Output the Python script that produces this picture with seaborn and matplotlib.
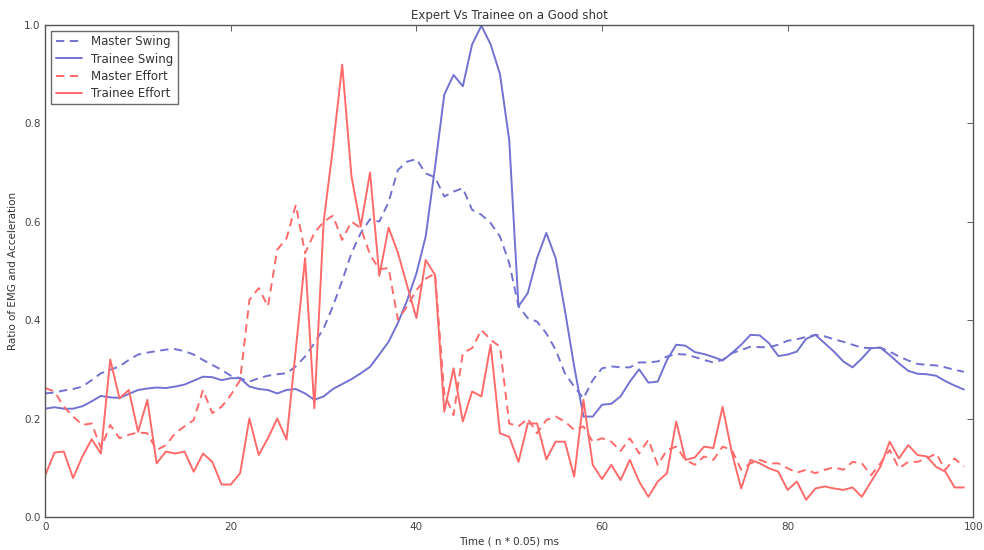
import numpy as np
import pandas as pd
import matplotlib
matplotlib.use("Agg")
import matplotlib.pyplot as plt
import seaborn as sns

# --- Data ---
time = list(range(100))

master_swing = [
    0.251, 0.253, 0.257, 0.260, 0.265, 0.278, 0.292, 0.299, 0.306, 0.319,
    0.330, 0.334, 0.337, 0.340, 0.341, 0.337, 0.330, 0.319, 0.309, 0.299,
    0.287, 0.282, 0.275, 0.282, 0.287, 0.290, 0.292, 0.306, 0.326, 0.353,
    0.383, 0.428, 0.480, 0.536, 0.577, 0.605, 0.600, 0.640, 0.705, 0.722,
    0.727, 0.698, 0.690, 0.651, 0.661, 0.668, 0.624, 0.614, 0.597, 0.570,
    0.516, 0.428, 0.404, 0.397, 0.373, 0.340, 0.292, 0.265, 0.241, 0.278,
    0.302, 0.306, 0.304, 0.304, 0.314, 0.314, 0.316, 0.326, 0.331, 0.330,
    0.325, 0.319, 0.314, 0.319, 0.333, 0.339, 0.346, 0.345, 0.345, 0.350,
    0.358, 0.361, 0.366, 0.370, 0.367, 0.361, 0.356, 0.350, 0.344, 0.343,
    0.344, 0.336, 0.326, 0.318, 0.311, 0.309, 0.308, 0.304, 0.299, 0.295,
]

trainee_swing = [
    0.220, 0.223, 0.220, 0.220, 0.225, 0.235, 0.246, 0.243, 0.242, 0.250,
    0.258, 0.261, 0.263, 0.262, 0.265, 0.269, 0.277, 0.285, 0.284, 0.278,
    0.282, 0.282, 0.265, 0.260, 0.258, 0.251, 0.258, 0.260, 0.251, 0.238,
    0.245, 0.260, 0.270, 0.280, 0.292, 0.305, 0.330, 0.356, 0.394, 0.440,
    0.495, 0.570, 0.710, 0.858, 0.898, 0.875, 0.960, 0.998, 0.960, 0.900,
    0.766, 0.428, 0.455, 0.526, 0.577, 0.526, 0.420, 0.306, 0.204, 0.204,
    0.228, 0.230, 0.245, 0.275, 0.300, 0.273, 0.275, 0.319, 0.350, 0.348,
    0.335, 0.331, 0.325, 0.318, 0.333, 0.350, 0.370, 0.369, 0.353, 0.327,
    0.330, 0.336, 0.362, 0.370, 0.353, 0.336, 0.316, 0.304, 0.322, 0.343,
    0.344, 0.329, 0.312, 0.297, 0.291, 0.290, 0.287, 0.276, 0.267, 0.259,
]

master_effort = [
    0.262, 0.255, 0.224, 0.204, 0.187, 0.190, 0.140, 0.187, 0.160, 0.167,
    0.172, 0.170, 0.136, 0.146, 0.170, 0.184, 0.197, 0.258, 0.211, 0.224,
    0.248, 0.278, 0.441, 0.465, 0.428, 0.543, 0.566, 0.634, 0.536, 0.577,
    0.600, 0.612, 0.563, 0.600, 0.587, 0.533, 0.503, 0.506, 0.401, 0.428,
    0.461, 0.484, 0.495, 0.251, 0.207, 0.333, 0.343, 0.380, 0.360, 0.346,
    0.190, 0.184, 0.200, 0.170, 0.197, 0.204, 0.194, 0.177, 0.184, 0.153,
    0.160, 0.153, 0.134, 0.160, 0.129, 0.157, 0.106, 0.136, 0.143, 0.116,
    0.106, 0.123, 0.116, 0.143, 0.136, 0.096, 0.109, 0.116, 0.109, 0.109,
    0.099, 0.090, 0.096, 0.089, 0.096, 0.101, 0.096, 0.112, 0.109, 0.085,
    0.109, 0.136, 0.099, 0.112, 0.112, 0.119, 0.129, 0.096, 0.119, 0.102,
]

trainee_effort = [
    0.085, 0.131, 0.133, 0.079, 0.123, 0.158, 0.129, 0.320, 0.241, 0.258,
    0.173, 0.238, 0.109, 0.133, 0.129, 0.133, 0.092, 0.129, 0.112, 0.066,
    0.066, 0.089, 0.200, 0.126, 0.160, 0.200, 0.157, 0.340, 0.526, 0.221,
    0.600, 0.750, 0.919, 0.692, 0.590, 0.700, 0.490, 0.588, 0.537, 0.470,
    0.404, 0.522, 0.492, 0.214, 0.302, 0.194, 0.255, 0.245, 0.350, 0.170,
    0.163, 0.112, 0.190, 0.190, 0.117, 0.153, 0.153, 0.082, 0.238, 0.106,
    0.077, 0.106, 0.075, 0.116, 0.072, 0.041, 0.072, 0.089, 0.194, 0.116,
    0.121, 0.143, 0.140, 0.224, 0.130, 0.058, 0.116, 0.109, 0.099, 0.092,
    0.055, 0.072, 0.035, 0.058, 0.062, 0.058, 0.055, 0.060, 0.041, 0.072,
    0.102, 0.153, 0.119, 0.146, 0.126, 0.123, 0.102, 0.092, 0.060, 0.060,
]

series = [
    ("Master Swing", master_swing, "#7272d2", (0, (6, 4))),
    ("Trainee Swing", trainee_swing, "#7272d2", "-"),
    ("Master Effort", master_effort, "#ff6a6a", (0, (6, 4))),
    ("Trainee Effort", trainee_effort, "#ff6a6a", "-"),
]

# --- Style ---
sns.set_style("white")
plt.rcParams["font.family"] = ["DejaVu Sans"]
plt.rcParams["lines.scale_dashes"] = False
plt.rcParams["xtick.direction"] = "in"
plt.rcParams["ytick.direction"] = "in"
plt.rcParams["xtick.top"] = True
plt.rcParams["ytick.right"] = True

fig, ax = plt.subplots(figsize=(9.84, 5.5), dpi=100)
fig.subplots_adjust(left=0.046, right=0.989, top=0.955, bottom=0.06)

for name, values, color, ls in series:
    df = pd.DataFrame({"time": time, "value": values})
    sns.lineplot(data=df, x="time", y="value", ax=ax, color=color,
                 linestyle=ls, linewidth=1.4, label=name)

ax.set_xlim(0, 100)
ax.set_ylim(0, 1.0)
ax.set_xticks([0, 20, 40, 60, 80, 100])
ax.set_yticks([0.0, 0.2, 0.4, 0.6, 0.8, 1.0])
ax.set_yticklabels(["0.0", "0.2", "0.4", "0.6", "0.8", "1.0"])
ax.tick_params(labelsize=7.5, colors="#444444", length=4, width=0.6)
for s in ax.spines.values():
    s.set_color("#555555")
    s.set_linewidth(1.0)

ax.set_title("Expert Vs Trainee on a Good shot", fontsize=8.5, color="#333333", pad=4)
ax.set_xlabel("Time ( n * 0.05) ms", fontsize=7.5, color="#333333", labelpad=3)
ax.set_ylabel("Ratio of EMG and Acceleration", fontsize=7.5, color="#333333", labelpad=4)

leg = ax.legend(loc="upper left", fontsize=8.5, frameon=True, fancybox=False,
                handlelength=2.2, borderpad=0.4, labelspacing=0.35)
leg.get_frame().set_edgecolor("#444444")
leg.get_frame().set_linewidth(1.0)
for t in leg.get_texts():
    t.set_color("#333333")

plt.savefig("out.png", dpi=100)
plt.close()
